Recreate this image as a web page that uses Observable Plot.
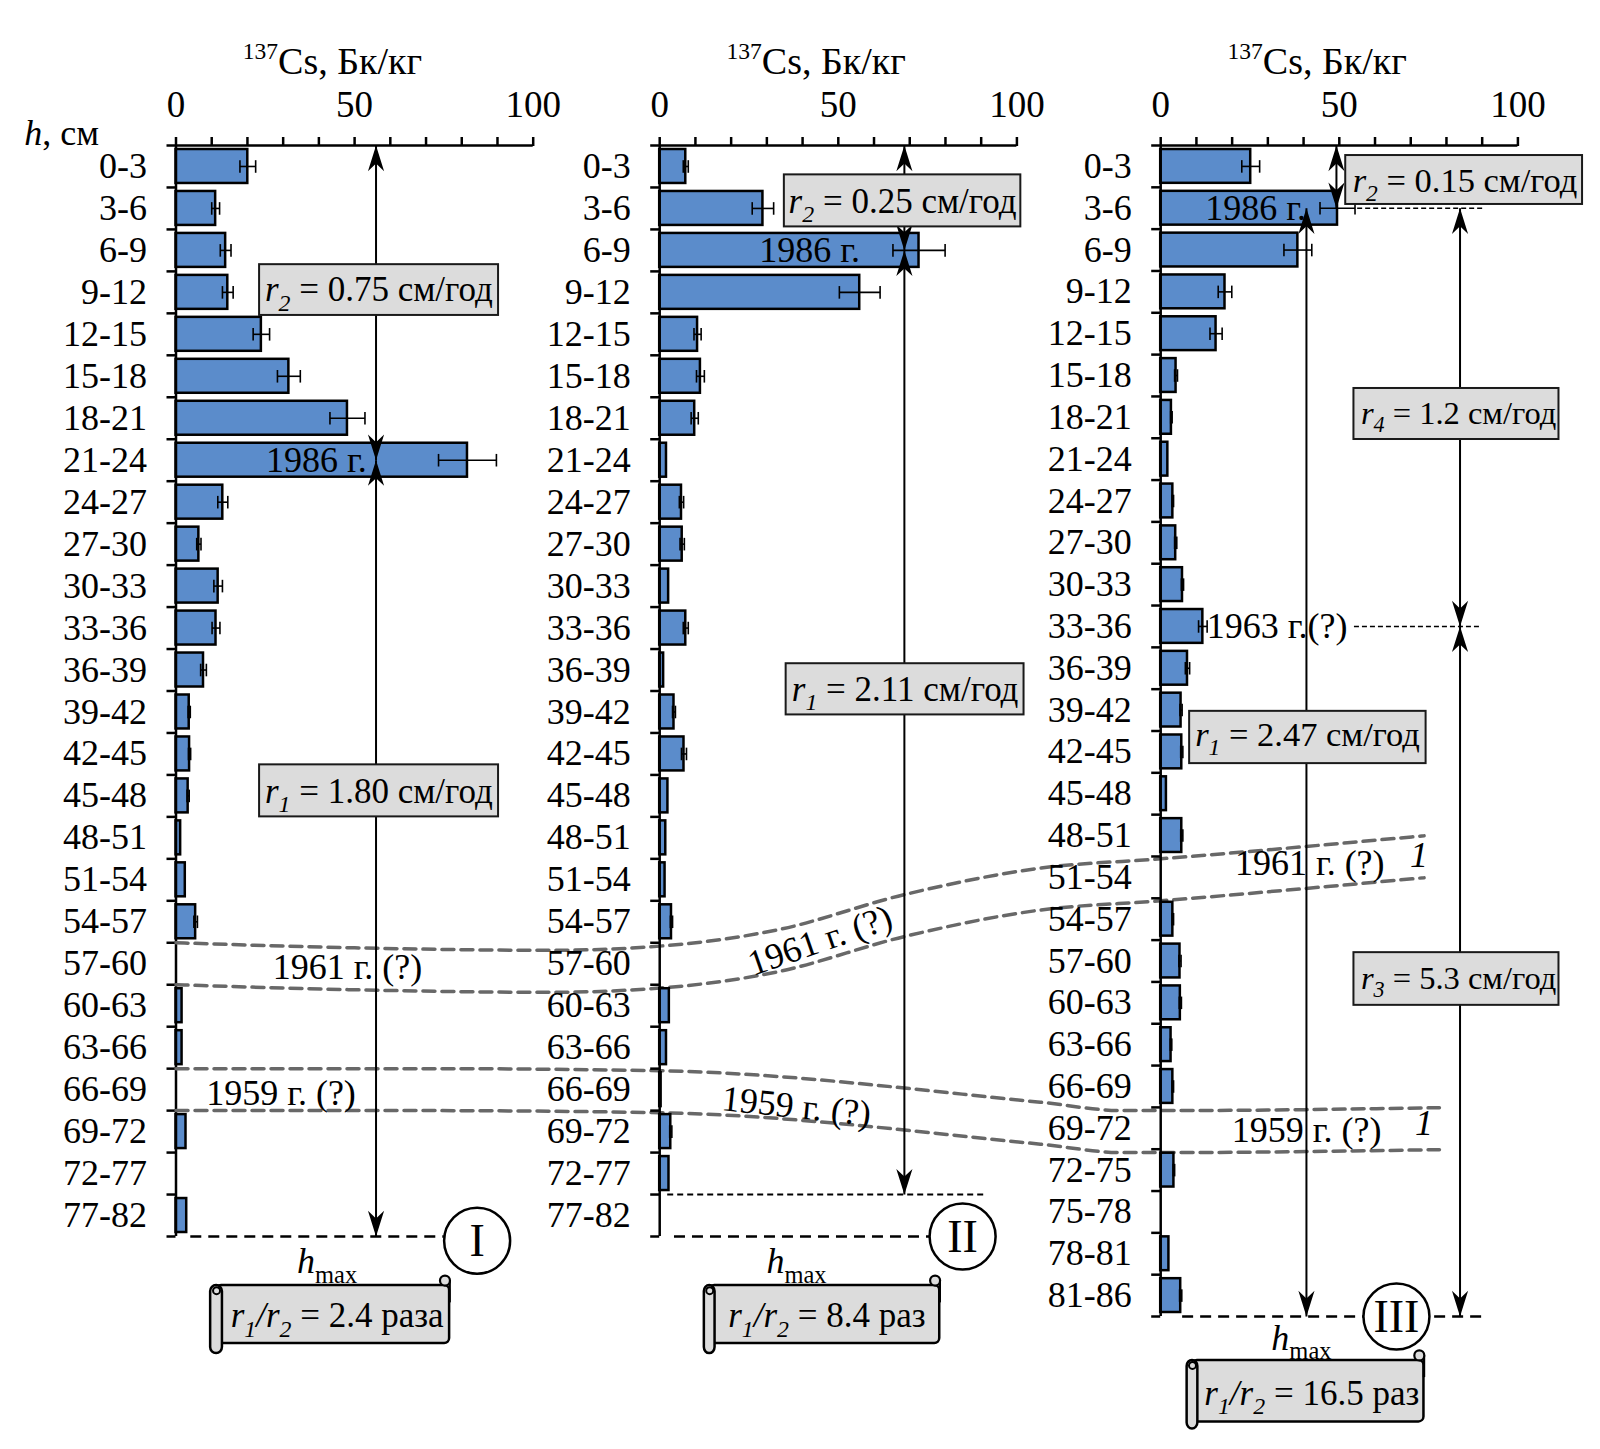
<!DOCTYPE html>
<html>
<head>
<meta charset="utf-8">
<script src="https://cdn.jsdelivr.net/npm/d3@7"></script>
<script src="https://cdn.jsdelivr.net/npm/@observablehq/plot@0.6"></script>
<style>
  html, body { margin: 0; padding: 0; background: #fff; }
  #chart { position: relative; width: 1600px; height: 1449px; overflow: hidden; }
</style>
</head>
<body>
<div id="chart"></div>
<script>
// ---------------- data ----------------
const depthsI = ["0-3","3-6","6-9","9-12","12-15","15-18","18-21","21-24","24-27","27-30","30-33","33-36","36-39","39-42","42-45","45-48","48-51","51-54","54-57","57-60","60-63","63-66","66-69","69-72","72-77","77-82"];
const depthsII = depthsI;
const depthsIII = ["0-3","3-6","6-9","9-12","12-15","15-18","18-21","21-24","24-27","27-30","30-33","33-36","36-39","39-42","42-45","45-48","48-51","51-54","54-57","57-60","60-63","63-66","66-69","69-72","72-75","75-78","78-81","81-86"];

const csI   = [20.1, 11.1, 13.9, 14.5, 23.9, 31.6, 48.0, 81.6, 13.1, 6.4, 11.8, 11.2, 7.7, 3.7, 3.8, 3.4, 1.3, 2.6, 5.5, 0, 1.7, 1.7, 0, 2.8, 0, 3.0];
const errI  = [2.2, 1.1, 1.5, 1.5, 2.3, 3.2, 4.9, 8.1, 1.4, 0.6, 1.2, 1.1, 0.8, 0.3, 0.3, 0.3, 0, 0, 0.5, 0, 0, 0, 0, 0, 0, 0];
const csII  = [7.3, 28.9, 72.6, 56.0, 10.6, 11.4, 9.8, 1.9, 6.1, 6.3, 2.5, 7.3, 1.1, 4.0, 6.8, 2.3, 1.7, 1.5, 3.3, 0, 2.7, 1.9, 0.4, 3.1, 2.6, 0];
const errII = [0.7, 3.0, 7.3, 5.7, 1.0, 1.1, 1.0, 0, 0.6, 0.6, 0, 0.7, 0, 0.4, 0.7, 0, 0, 0, 0.3, 0, 0, 0, 0, 0.3, 0, 0];
const csIII  = [25.2, 49.5, 38.4, 18.0, 15.5, 4.3, 3.0, 2.0, 3.4, 4.2, 6.1, 11.8, 7.5, 5.7, 5.9, 1.6, 5.9, 0, 3.4, 5.4, 5.5, 2.9, 3.4, 0, 3.7, 0, 2.3, 5.6];
const errIII = [2.5, 4.9, 3.9, 1.9, 1.7, 0.4, 0.2, 0, 0.2, 0.3, 0.3, 1.2, 0.6, 0.3, 0.3, 0, 0.3, 0, 0.2, 0.3, 0.3, 0.2, 0.2, 0, 0.2, 0, 0, 0.3];

const xTickLabels = [0, 50, 100];
const xMinorTicks = [0, 10, 20, 30, 40, 50, 60, 70, 80, 90, 100];

// ---------------- style ----------------
const SERIF = "'Liberation Serif', 'Times New Roman', serif";
const BLUE = "#5b8ccb";
const BOXFILL = "#dcdcdc";
const GRAYDASH = "#686868";
const TOP = 145;
const FS = 36;

// arrowhead symbol (tip at the anchor, pointing up)
const head = {
  draw(ctx, size) {
    const r = Math.sqrt(size / Math.PI);
    ctx.moveTo(0, 0);
    ctx.lineTo(0.85 * r, 2.7 * r);
    ctx.lineTo(0, 1.9 * r);
    ctx.lineTo(-0.85 * r, 2.7 * r);
    ctx.closePath();
  }
};

function arrowSeg(x, y1, y2) {
  return [
    Plot.link([{x, y1, y2}], {x1: "x", x2: "x", y1: "y1", y2: "y2", stroke: "black", strokeWidth: 2}),
    Plot.dot([{x, y: y1, a: 0}, {x, y: y2, a: 180}], {x: "x", y: "y", rotate: "a", symbol: head, r: 9.5, fill: "black", stroke: "none"})
  ];
}
function boxes(list) {
  return Plot.rect(list, {x1: "x1", x2: "x2", y1: "y1", y2: "y2", fill: BOXFILL, stroke: "#1a1a1a", strokeWidth: 2});
}
function texts(list, extra = {}) {
  return Plot.text(list, {x: "x", y: "y", text: "t", fontSize: FS, fontFamily: SERIF, fill: "black", ...extra});
}
function hline(y, x1, x2, opts) {
  return Plot.link([{y, x1, x2}], {x1: "x1", x2: "x2", y1: "y", y2: "y", ...opts});
}
function circleLabel(x, y, t) {
  return [
    Plot.dot([{x, y}], {x: "x", y: "y", r: 33, fill: "white", stroke: "black", strokeWidth: 2.5}),
    Plot.text([{x, y, t}], {x: "x", y: "y", text: "t", fontSize: 46, fontFamily: SERIF, fill: "black", dy: 1})
  ];
}
function scroll(s) {
  const rc = (s.rx1 + s.rx2) / 2;
  return [
    Plot.rect([s], {x1: () => rc, x2: "x2", y1: "y1", y2: "y2", fill: BOXFILL, stroke: "black", strokeWidth: 2.5, rx: 5}),
    Plot.link([s], {x1: "x2", x2: "x2", y1: d => d.y1 - 0.12, y2: d => d.y1 + 0.4, stroke: "black", strokeWidth: 2.5}),
    Plot.dot([s], {x: d => d.x2 - 1.3, y: d => d.y1 - 0.12, r: 5, fill: BOXFILL, stroke: "black", strokeWidth: 2.2}),
    Plot.rect([s], {x1: "rx1", x2: "rx2", y1: "y1", y2: "yb", fill: BOXFILL, stroke: "black", strokeWidth: 2.5, rx: 6}),
    Plot.dot([s], {x: () => rc, y: d => d.y1 + 0.12, r: 3.5, fill: "none", stroke: "black", strokeWidth: 2}),
    Plot.text([s], {x: "tx", y: "ty", text: "t", fontSize: 35, fontFamily: SERIF, fill: "black"})
  ];
}

function basePanel(labels, values, errors) {
  const n = labels.length;
  const rows = labels.map((label, i) => ({label, i, v: values[i], e: errors[i]}));
  const errs = rows.filter(d => d.e > 0);
  return [
    Plot.rect(rows.filter(d => d.v > 0), {x1: 0, x2: "v", y1: "i", y2: d => d.i + 1, insetTop: 4, insetBottom: 4, fill: BLUE, stroke: "black", strokeWidth: 2.5}),
    Plot.link(errs, {x1: d => d.v - d.e, x2: d => d.v + d.e, y1: d => d.i + 0.5, y2: d => d.i + 0.5, stroke: "black", strokeWidth: 1.6}),
    Plot.link(errs, {x1: d => d.v - d.e, x2: d => d.v - d.e, y1: d => d.i + 0.35, y2: d => d.i + 0.65, stroke: "black", strokeWidth: 1.6}),
    Plot.link(errs, {x1: d => d.v + d.e, x2: d => d.v + d.e, y1: d => d.i + 0.35, y2: d => d.i + 0.65, stroke: "black", strokeWidth: 1.6}),
    Plot.ruleY([0], {x1: 0, x2: 100, stroke: "black", strokeWidth: 2.5}),
    Plot.ruleX([0], {y1: 0, y2: n, stroke: "black", strokeWidth: 2.5}),
    Plot.axisX(xMinorTicks, {anchor: "top", tickSize: 9, strokeWidth: 2.5, tickFormat: () => ""}),
    Plot.axisX(xTickLabels, {anchor: "top", tickSize: 0, tickPadding: 29, fontSize: 37, fontFamily: SERIF, fill: "black"}),
    Plot.axisY(d3.range(n + 1), {anchor: "left", tickSize: 9, strokeWidth: 2.5, tickFormat: () => ""}),
    Plot.axisY(rows.map(d => d.i + 0.5), {anchor: "left", tickSize: 0, tickPadding: 29, fontSize: FS, fontFamily: SERIF, fill: "black", tickFormat: d => labels[Math.floor(d)]}),
    texts([{x: 43.8, y: -2.0, t: "<sup>137</sup>Cs, Бк/кг"}], {fontSize: 38})
  ];
}

function render(labels, values, errors, x0, x100, bottom, extra) {
  const n = labels.length;
  return Plot.plot({
    width: 1600,
    height: 1449,
    marginTop: TOP,
    marginLeft: x0,
    marginRight: 1600 - x100,
    marginBottom: 1449 - bottom,
    x: {domain: [0, 100], range: [x0, x100], label: null},
    y: {domain: [0, n], range: [TOP, bottom], label: null},
    style: {position: "absolute", left: "0px", top: "0px", background: "transparent", overflow: "visible", fontFamily: SERIF, maxWidth: "none"},
    marks: [...basePanel(labels, values, errors), ...extra]
  });
}

// ---------------- panel I (with the cross-panel layer bands) ----------------
const dashStyle = {stroke: GRAYDASH, strokeWidth: 3.5, strokeDasharray: "12,7", curve: "monotone-x"};
const b61u = [[0,19],[50,19.12],[105,19.18],[135.4,19.08],[168,18.7],[204,17.85],[242,17.22],[275.7,17.0],[349.4,16.45]];
const b61l = b61u.map(([x, y]) => [x, y + 1]);
const b59u = [[0,22],[70,22.0],[135.4,22.05],[242,22.8],[265,23.0],[275.7,23.0],[353.7,22.93]];
const b59l = b59u.map(([x, y]) => [x, y + 1]);

const extraI = [
  Plot.line(b61u, {x: "0", y: "1", ...dashStyle}),
  Plot.line(b61l, {x: "0", y: "1", ...dashStyle}),
  Plot.line(b59u, {x: "0", y: "1", ...dashStyle}),
  Plot.line(b59l, {x: "0", y: "1", ...dashStyle}),
  texts([
    {x: 48, y: 19.6, t: "1961 г. (?)"},
    {x: 317.4, y: 17.1, t: "1961 г. (?)"},
    {x: 29.4, y: 22.6, t: "1959 г. (?)"},
    {x: 316.5, y: 23.47, t: "1959 г. (?)"}
  ]),
  texts([{x: 180.3, y: 18.95, t: "1961 г. (?)"}], {rotate: -19}),
  texts([{x: 173.7, y: 22.9, t: "1959 г. (?)"}], {rotate: 6}),
  texts([{x: 348, y: 16.92, t: "1"}, {x: 349.4, y: 23.3, t: "1"}], {fontStyle: "italic"}),
  ...arrowSeg(56, 0, 7.5),
  ...arrowSeg(56, 7.5, 26),
  boxes([{x1: 23.4, x2: 90.3, y1: 2.84, y2: 4.05}, {x1: 23.4, x2: 90.3, y1: 14.76, y2: 16.0}]),
  texts([
    {x: 56.8, y: 3.45, t: "<i>r</i><sub><i>2</i></sub> = 0.75 см/год"},
    {x: 56.8, y: 15.4, t: "<i>r</i><sub><i>1</i></sub> = 1.80 см/год"}
  ], {fontSize: 35}),
  texts([{x: 39.3, y: 7.5, t: "1986 г."}]),
  hline(26, 4, 75, {stroke: "black", strokeWidth: 2.5, strokeDasharray: "11,7"}),
  ...circleLabel(84.3, 26.1, "I"),
  texts([{x: 42.3, y: 26.6, t: "<i>h</i><sub>max</sub>"}]),
  ...scroll({rx1: 9.7, rx2: 13.0, x2: 76.6, y1: 27.17, y2: 28.55, yb: 28.79, tx: 45.1, ty: 27.9, t: "<i>r</i><sub><i>1</i></sub><i>/r</i><sub><i>2</i></sub> = 2.4 раза"}),
  texts([{x: -32, y: -0.29, t: "<i>h</i>, см"}])
];

// ---------------- panel II ----------------
const extraII = [
  ...arrowSeg(68.5, 0, 2.5),
  ...arrowSeg(68.5, 2.5, 25),
  hline(25, 2.1, 91.2, {stroke: "black", strokeWidth: 2, strokeDasharray: "6,4"}),
  boxes([{x1: 34.9, x2: 101.1, y1: 0.70, y2: 1.94}, {x1: 35.4, x2: 102, y1: 12.35, y2: 13.57}]),
  texts([
    {x: 68.0, y: 1.33, t: "<i>r</i><sub><i>2</i></sub> = 0.25 см/год"},
    {x: 68.7, y: 12.96, t: "<i>r</i><sub><i>1</i></sub> = 2.11 см/год"}
  ], {fontSize: 35}),
  texts([{x: 42.0, y: 2.5, t: "1986 г."}]),
  hline(26, 4, 75.6, {stroke: "black", strokeWidth: 2.5, strokeDasharray: "11,7"}),
  ...circleLabel(84.8, 26, "II"),
  texts([{x: 38.3, y: 26.6, t: "<i>h</i><sub>max</sub>"}]),
  ...scroll({rx1: 12.5, rx2: 15.5, x2: 78.4, y1: 27.17, y2: 28.55, yb: 28.79, tx: 46.8, ty: 27.9, t: "<i>r</i><sub><i>1</i></sub><i>/r</i><sub><i>2</i></sub> = 8.4 раз"})
];

// ---------------- panel III ----------------
const extraIII = [
  ...arrowSeg(49.2, 0, 1.5),
  ...arrowSeg(40.8, 1.5, 28),
  ...arrowSeg(83.8, 1.5, 11.5),
  ...arrowSeg(83.8, 11.5, 28),
  hline(1.5, 55, 90.8, {stroke: "black", strokeWidth: 1.6, strokeDasharray: "5,3"}),
  hline(11.5, 54.1, 89.8, {stroke: "black", strokeWidth: 1.6, strokeDasharray: "5,3"}),
  boxes([
    {x1: 51.8, x2: 118.1, y1: 0.24, y2: 1.41},
    {x1: 54.1, x2: 111.5, y1: 5.81, y2: 7.03},
    {x1: 8.1, x2: 74.3, y1: 13.53, y2: 14.78},
    {x1: 54.1, x2: 111.5, y1: 19.3, y2: 20.56}
  ]),
  texts([
    {x: 85.2, y: 0.84, t: "<i>r</i><sub><i>2</i></sub> = 0.15 см/год"},
    {x: 41.1, y: 14.1, t: "<i>r</i><sub><i>1</i></sub> = 2.47 см/год"}
  ], {fontSize: 34.5}),
  texts([
    {x: 83.4, y: 6.41, t: "<i>r</i><sub><i>4</i></sub> = 1.2 см/год"},
    {x: 83.4, y: 19.91, t: "<i>r</i><sub><i>3</i></sub> = 5.3 см/год"}
  ], {fontSize: 32.5}),
  texts([{x: 26.6, y: 1.5, t: "1986 г."}, {x: 32.6, y: 11.5, t: "1963 г.(?)"}]),
  hline(28, 6, 89.9, {stroke: "black", strokeWidth: 2.5, strokeDasharray: "11,7"}),
  ...circleLabel(66, 28, "III"),
  texts([{x: 39.4, y: 28.52, t: "<i>h</i><sub>max</sub>"}]),
  ...scroll({rx1: 7.4, rx2: 10.4, x2: 73.7, y1: 29.05, y2: 30.52, yb: 30.69, tx: 42.3, ty: 29.84, t: "<i>r</i><sub><i>1</i></sub><i>/r</i><sub><i>2</i></sub> = 16.5 раз"})
];

// ---------------- rich text (italic, sub/superscripts) ----------------
function richify(root) {
  const NS = "http://www.w3.org/2000/svg";
  root.querySelectorAll("text").forEach(t => {
    const tsp = t.querySelectorAll("tspan");
    const els = tsp.length ? Array.from(tsp) : [t];
    els.forEach(el => {
      const s = el.textContent;
      if (!s.includes("<")) return;
      const fs = parseFloat(getComputedStyle(el).fontSize) || FS;
      el.textContent = "";
      const re = /<(\/?)(i|sub|sup)>/g;
      let italic = 0, shift = 0, cur = 0, last = 0, m;
      const emit = str => {
        if (!str) return;
        const ts = document.createElementNS(NS, "tspan");
        ts.textContent = str;
        if (italic > 0) ts.setAttribute("font-style", "italic");
        let target = 0;
        if (shift > 0) { ts.setAttribute("font-size", (fs * 0.68) + "px"); target = fs * 0.26; }
        if (shift < 0) { ts.setAttribute("font-size", (fs * 0.62) + "px"); target = -fs * 0.4; }
        if (target !== cur) { ts.setAttribute("dy", (target - cur).toFixed(2)); cur = target; }
        el.appendChild(ts);
      };
      while ((m = re.exec(s))) {
        emit(s.slice(last, m.index));
        last = re.lastIndex;
        const close = m[1] === "/";
        if (m[2] === "i") italic += close ? -1 : 1;
        else if (m[2] === "sub") shift = close ? 0 : 1;
        else shift = close ? 0 : -1;
      }
      emit(s.slice(last));
    });
  });
}

const chart = document.getElementById("chart");
chart.append(render(depthsI, csI, errI, 175.5, 532.7, 1236, extraI));
chart.append(render(depthsII, csII, errII, 659.2, 1016.4, 1236, extraII));
chart.append(render(depthsIII, csIII, errIII, 1160.2, 1517.4, 1316, extraIII));
richify(chart);
</script>
</body>
</html>
